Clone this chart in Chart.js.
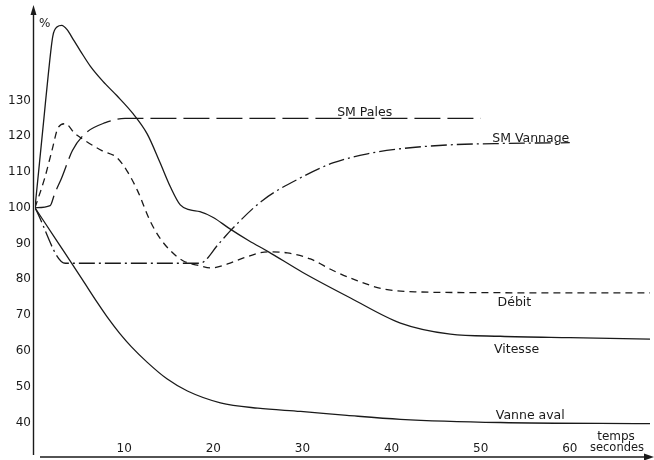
<!DOCTYPE html>
<html>
<head>
<meta charset="utf-8">
<script src="https://cdn.jsdelivr.net/npm/chart.js@4/dist/chart.umd.min.js"></script>
<style>
  html, body { margin: 0; padding: 0; background: #fff; }
  #wrap { width: 654px; height: 460px; }
</style>
</head>
<body>
<div id="wrap"><canvas id="courbes" width="654" height="460"></canvas></div>
<script>
// temps en secondes / valeurs en %
let vitesseTemps = [0, 0.5, 1, 1.5, 2, 2.5, 3, 3.6, 4.3, 5.1, 6.2, 7.6, 9.2, 11, 12.6, 14, 15.2, 16.3, 17.4, 18.5, 20, 21.7, 24, 26.2, 30, 35.4, 41, 46.6, 52.2, 60, 69];
let vitesseValeurs = [100, 112.5, 125, 137.5, 148, 150.6, 151, 149.8, 147, 143.8, 139.6, 135.4, 131.3, 126.3, 120.6, 112.8, 105.8, 100.8, 99.4, 98.9, 97.3, 94.4, 90.8, 87.7, 82, 74.8, 67.8, 64.7, 64.1, 63.7, 63.3];

let vanneTemps = [0, 2.6, 5.3, 7, 8.3, 9.5, 10.8, 12.6, 14.8, 17.1, 20.8, 25, 29.8, 35, 41, 52.2, 69];
let vanneValeurs = [100, 90.2, 80, 73.5, 68.8, 64.9, 61.2, 56.8, 52.2, 48.8, 45.5, 44, 43.1, 42, 40.9, 40, 39.7];

let debitTemps = [0, 1.1, 1.9, 2.6, 3.4, 4.5, 5.6, 7.5, 9.2, 10.3, 11.5, 12.9, 14, 15.2, 16.6, 18.5, 19.7, 21.6, 23.4, 26.1, 28.3, 30.9, 33.5, 36.2, 39.1, 42.9, 50, 60, 69];
let debitValeurs = [100, 108.4, 116, 122.4, 123.5, 120.7, 118.8, 116, 114, 110.4, 104.8, 96.4, 91.6, 88, 85.2, 83.8, 83.2, 84.3, 86, 87.7, 87.4, 85.7, 82.4, 79.6, 77.3, 76.5, 76.3, 76.2, 76.2];

let palesTemps = [0, 1.7, 2.2, 3, 4.2, 5.6, 7.9, 10.1, 12, 50];
let palesValeurs = [100, 100.6, 103.9, 108.4, 116, 120.7, 123.8, 125, 125, 125];

let vannageTemps = [0, 3.4, 18.5, 20.6, 22, 25.5, 29.8, 33.5, 37.3, 41, 46.6, 53, 60];
let vannageValeurs = [100, 84.5, 84.5, 89.9, 93.8, 102, 108.4, 112.6, 115.1, 116.5, 117.6, 118, 118.2];

let ticksY = [40, 50, 60, 70, 80, 90, 100, 110, 120, 130];
let ticksX = [10, 20, 30, 40, 50, 60];

// noms des courbes, posés à côté du tracé (t, %)
let etiquettes = [
  { texte: "SM Pales", t: 33.9, v: 125.6 },
  { texte: "SM Vannage", t: 51.3, v: 118.4 },
  { texte: "Débit", t: 51.9, v: 72.5 },
  { texte: "Vitesse", t: 51.5, v: 59.3 },
  { texte: "Vanne aval", t: 51.7, v: 40.9 }
];

function toPoints(temps, valeurs){
    let pts = new Array();
    for(let i=0; i<temps.length; i++){
        pts.push({ x: temps[i], y: valeurs[i] });
    }
    return pts;
}

const police = '"DejaVu Sans", sans-serif';
const encre = '#1a1a1a';

// axes avec flèches + textes libres
const axesPlugin = {
    id: 'axesFleches',
    afterDraw(chart) {
        const ctx = chart.ctx;
        const a = chart.chartArea;
        const sx = chart.scales.x;
        const sy = chart.scales.y;
        const yAxe = a.bottom + 15;
        ctx.save();
        ctx.strokeStyle = encre;
        ctx.fillStyle = encre;
        ctx.lineWidth = 1.4;

        // axe vertical
        ctx.beginPath();
        ctx.moveTo(a.left - 1.5, yAxe - 2);
        ctx.lineTo(a.left - 1.5, 14);
        ctx.stroke();
        ctx.beginPath();
        ctx.moveTo(a.left - 1.5, 5);
        ctx.lineTo(a.left - 4.5, 15);
        ctx.lineTo(a.left + 1.5, 15);
        ctx.closePath();
        ctx.fill();

        // axe horizontal
        ctx.beginPath();
        ctx.moveTo(a.left + 5, yAxe);
        ctx.lineTo(646, yAxe);
        ctx.stroke();
        ctx.beginPath();
        ctx.moveTo(654, yAxe);
        ctx.lineTo(644, yAxe - 3.5);
        ctx.lineTo(644, yAxe + 3.5);
        ctx.closePath();
        ctx.fill();

        ctx.font = '12px ' + police;
        ctx.textBaseline = 'alphabetic';
        ctx.textAlign = 'left';
        ctx.fillText('%', a.left + 4, 27);

        ctx.textAlign = 'center';
        ctx.fillText('temps', 616, 440);
        ctx.font = '11.5px ' + police;
        ctx.fillText('secondes', 617, 451);

        ctx.font = '12.5px ' + police;
        ctx.textAlign = 'left';
        etiquettes.forEach(function(e){
            ctx.fillText(e.texte, sx.getPixelForValue(e.t), sy.getPixelForValue(e.v));
        });
        ctx.restore();
    }
};

let ctxCourbes = document.getElementById('courbes');
new Chart(ctxCourbes, {
    type: 'line',
    data: {
        datasets: [
            {
              label: "Vitesse",
              data: toPoints(vitesseTemps, vitesseValeurs),
              borderColor: encre,
              borderWidth: 1.3
            },
            {
              label: "Vanne aval",
              data: toPoints(vanneTemps, vanneValeurs),
              borderColor: encre,
              borderWidth: 1.3
            },
            {
              label: "Débit",
              data: toPoints(debitTemps, debitValeurs),
              borderColor: encre,
              borderWidth: 1.3,
              borderDash: [7, 5]
            },
            {
              label: "SM Pales",
              data: toPoints(palesTemps, palesValeurs),
              borderColor: encre,
              borderWidth: 1.3,
              borderDash: [26, 7]
            },
            {
              label: "SM Vannage",
              data: toPoints(vannageTemps, vannageValeurs),
              borderColor: encre,
              borderWidth: 1.3,
              borderDash: [16, 4, 2, 4]
            }
        ]
    },
    options: {
        responsive: false,
        animation: false,
        layout: { padding: { top: 11, right: 4, left: 0, bottom: 0 } },
        plugins: {
            legend: { display: false },
            tooltip: { enabled: false }
        },
        elements: { point: { radius: 0 }, line: { cubicInterpolationMode: 'monotone' } },
        scales: {
            x: {
                type: 'linear',
                min: 0,
                max: 69,
                grid: { display: false, drawTicks: false },
                border: { display: false },
                afterBuildTicks: function(scale){
                    scale.ticks = ticksX.map(function(v){ return { value: v }; });
                },
                afterFit: function(scale){
                    scale.height = 18;
                    scale.paddingLeft = 0;
                    scale.paddingRight = 0;
                },
                ticks: {
                    padding: 0,
                    maxRotation: 0,
                    autoSkip: false,
                    color: encre,
                    font: { family: police, size: 12 }
                }
            },
            y: {
                type: 'linear',
                min: 34.55,
                max: 155,
                grid: { display: false, drawTicks: false },
                border: { display: false },
                afterBuildTicks: function(scale){
                    scale.ticks = ticksY.map(function(v){ return { value: v }; });
                },
                afterFit: function(scale){
                    scale.width = 35;
                    scale.paddingTop = 0;
                    scale.paddingBottom = 0;
                },
                ticks: {
                    padding: 4,
                    autoSkip: false,
                    color: encre,
                    font: { family: police, size: 12 }
                }
            }
        }
    },
    plugins: [axesPlugin]
});
</script>
</body>
</html>
